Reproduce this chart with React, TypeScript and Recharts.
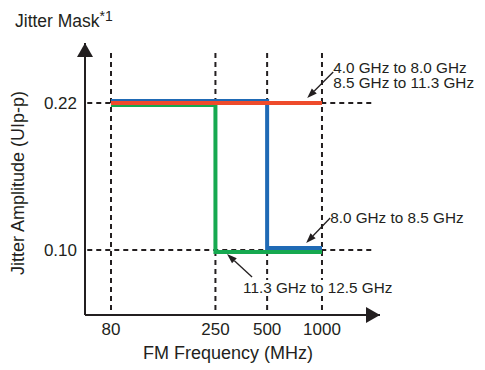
import React from 'react'
import { LineChart, Line, XAxis, YAxis, ReferenceLine, ReferenceDot } from 'recharts'

const FREQ_TICKS = [80, 250, 500, 1000]
// the figure's frequency axis is schematic, each tick gets its own slot
const FREQ_SLOTS = [0, 1.98, 2.96, 4]
const AMP_TICKS = [0.1, 0.22]

const redFreq = [80, 1000]
const redAmp = [0.22, 0.22]
const blueFreq = [80, 500, 500, 1000]
const blueAmp = [0.22, 0.22, 0.1, 0.1]
const greenFreq = [80, 250, 250, 1000]
const greenAmp = [0.22, 0.22, 0.1, 0.1]

const slot = (f: number) => FREQ_SLOTS[FREQ_TICKS.indexOf(f)]
const toPoints = (fs: number[], as: number[]) => fs.map((f, i) => ({ x: slot(f), y: as[i] }))

const X_DOMAIN: [number, number] = [-0.493, 5.1]
const Y_DOMAIN: [number, number] = [0.0469, 0.269]
const INK = '#231f20'
const FONT = '"Liberation Sans", Arial, sans-serif'

const ArrowRight = (p: any) => (
  <polygon points={`${p.cx},${p.cy} ${p.cx - 14},${p.cy - 8} ${p.cx - 14},${p.cy + 8}`} fill={INK} />
)
const ArrowUp = (p: any) => (
  <polygon points={`${p.cx},${p.cy} ${p.cx - 8},${p.cy + 14} ${p.cx + 8},${p.cy + 14}`} fill={INK} />
)

// arrow from tail to tip (offsets from the anchor point) plus a text block
function callout(tip: number[], tail: number[], lines: string[], tx: number, ty: number, knockout = 0) {
  return (p: any) => {
    const { cx, cy } = p
    const x1 = cx + tail[0], y1 = cy + tail[1]
    const x2 = cx + tip[0], y2 = cy + tip[1]
    const len = Math.hypot(x2 - x1, y2 - y1)
    const ux = (x2 - x1) / len, uy = (y2 - y1) / len
    const bx = x2 - ux * 10, by = y2 - uy * 10
    const nx = -uy * 3.5, ny = ux * 3.5
    return (
      <g>
        {knockout > 0 && (
          <rect x={cx + tx - 2} y={cy + ty - 13} width={knockout} height={16} fill="#fff" />
        )}
        <line x1={x1} y1={y1} x2={bx} y2={by} stroke={INK} strokeWidth={1.3} />
        <polygon points={`${x2},${y2} ${bx + nx},${by + ny} ${bx - nx},${by - ny}`} fill={INK} />
        <text x={cx + tx} y={cy + ty} fontSize={15.3} fill={INK} fontFamily={FONT}>
          {lines.map((l, i) => (
            <tspan key={i} x={cx + tx} dy={i === 0 ? 0 : 15}>{l}</tspan>
          ))}
        </text>
      </g>
    )
  }
}

export default function App() {
  return (
    <div style={{ position: 'absolute', left: 0, top: 0, width: 485, height: 370, background: '#fff', fontFamily: FONT }}>
      <style>{`
        .jm-blue { transform: translate(0px, -2px); }
        .jm-green { transform: translate(0px, 2px); }
      `}</style>
      <LineChart width={485} height={370} margin={{ top: 43, right: 105, left: 0, bottom: 0 }}>
        <XAxis
          type="number"
          dataKey="x"
          domain={X_DOMAIN}
          allowDataOverflow
          ticks={FREQ_SLOTS}
          tickFormatter={(v: number) => String(FREQ_TICKS[FREQ_SLOTS.indexOf(v)])}
          tickLine={false}
          axisLine={{ stroke: INK, strokeWidth: 2 }}
          tick={{ fill: INK, fontSize: 17 }}
          height={55}
        />
        <YAxis
          type="number"
          dataKey="y"
          domain={Y_DOMAIN}
          allowDataOverflow
          ticks={AMP_TICKS}
          tickFormatter={(v: number) => v.toFixed(2)}
          tickLine={false}
          axisLine={{ stroke: INK, strokeWidth: 2 }}
          tick={{ fill: INK, fontSize: 17 }}
          width={85}
        />
        {FREQ_SLOTS.map(s => (
          <ReferenceLine
            key={'v' + s}
            segment={[{ x: s, y: 0.2608 }, { x: s, y: Y_DOMAIN[0] }]}
            stroke={INK}
            strokeWidth={2}
            strokeDasharray="5 4"
          />
        ))}
        {AMP_TICKS.map(a => (
          <ReferenceLine
            key={'h' + a}
            segment={[{ x: -0.45, y: a }, { x: 4.98, y: a }]}
            stroke={INK}
            strokeWidth={2}
            strokeDasharray="5 4"
          />
        ))}
        <Line className="jm-green" data={toPoints(greenFreq, greenAmp)} dataKey="y" type="linear" stroke="#16a950" strokeWidth={4} dot={false} isAnimationActive={false} />
        <Line className="jm-blue" data={toPoints(blueFreq, blueAmp)} dataKey="y" type="linear" stroke="#1f6ab5" strokeWidth={4} dot={false} isAnimationActive={false} />
        <Line className="jm-red" data={toPoints(redFreq, redAmp)} dataKey="y" type="linear" stroke="#ee4b2b" strokeWidth={4} dot={false} isAnimationActive={false} />
        <ReferenceDot x={X_DOMAIN[1]} y={Y_DOMAIN[0]} ifOverflow="visible" shape={ArrowRight} />
        <ReferenceDot x={X_DOMAIN[0]} y={Y_DOMAIN[1]} ifOverflow="visible" shape={ArrowUp} />
        <ReferenceDot x={3.72} y={0.22} shape={callout([0, -5], [26, -31], ['4.0 GHz to 8.0 GHz', '8.5 GHz to 11.3 GHz'], 26, -30)} />
        <ReferenceDot x={3.7} y={0.1} shape={callout([0, -7], [24, -32], ['8.0 GHz to 8.5 GHz'], 24, -27)} />
        <ReferenceDot x={2.2} y={0.1} shape={callout([0, 4], [25, 27], ['11.3 GHz to 12.5 GHz'], 16, 43, 155)} />
      </LineChart>
      <svg width={485} height={370} style={{ position: 'absolute', left: 0, top: 0, pointerEvents: 'none' }}>
        <text x={15} y={27} fontSize={17.5} fill={INK} fontFamily={FONT}>
          Jitter Mask<tspan fontSize={14} dy={-6}>*1</tspan>
        </text>
        <text transform="translate(24,183) rotate(-90)" textAnchor="middle" fontSize={18} fill={INK} fontFamily={FONT}>
          Jitter Amplitude (UIp-p)
        </text>
        <text x={228} y={359} textAnchor="middle" fontSize={18} fill={INK} fontFamily={FONT}>
          FM Frequency (MHz)
        </text>
      </svg>
    </div>
  )
}
